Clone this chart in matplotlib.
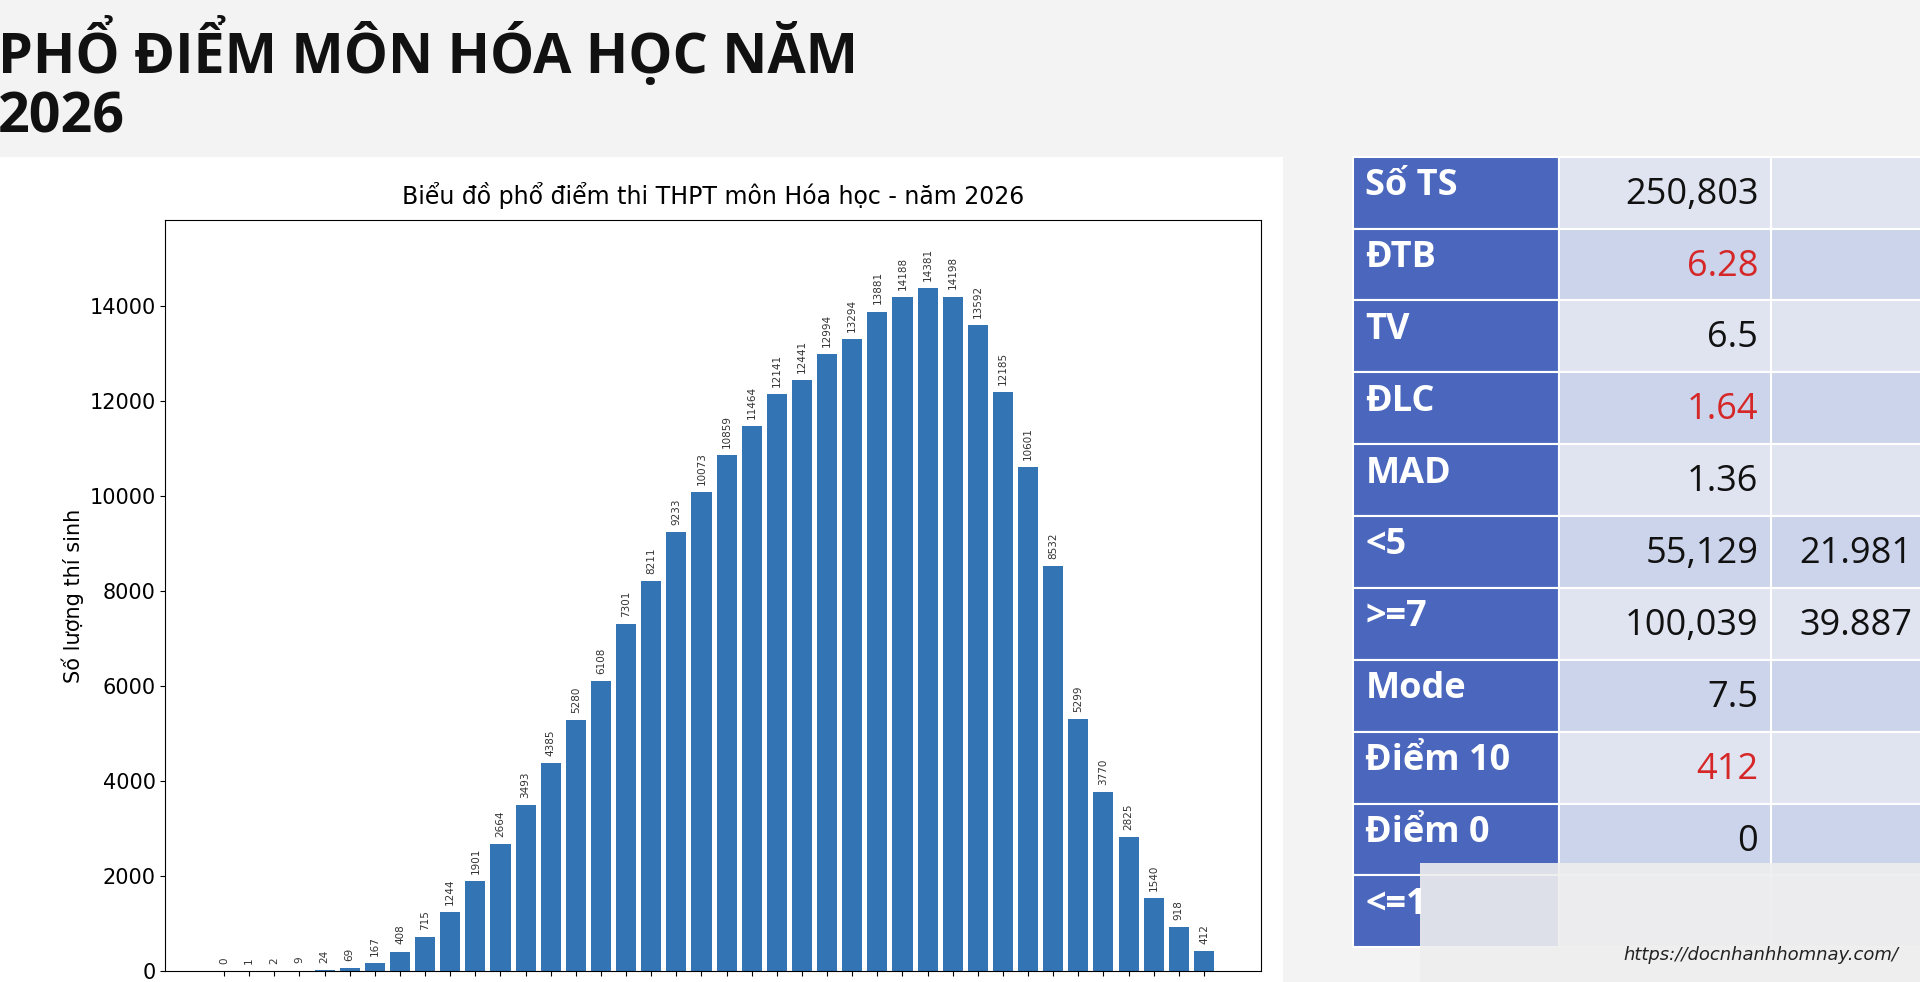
import matplotlib
matplotlib.use("Agg")
import matplotlib.pyplot as plt
from matplotlib.patches import Rectangle

scores = [0.25 * (i + 1) for i in range(40)]
counts = [0, 1, 2, 9, 24, 69, 167, 408, 715, 1244, 1901, 2664, 3493, 4385, 5280, 6108,
          7301, 8211, 9233, 10073, 10859, 11464, 12141, 12441, 12994, 13294, 13881, 14188,
          14381, 14198, 13592, 12185, 10601, 8532, 5299, 3770, 2825, 1540, 918, 412]
row_labels = ["Số TS", "ĐTB", "TV", "ĐLC", "MAD", "<5", ">=7", "Mode", "Điểm 10", "Điểm 0", "<=1"]
row_values = ["250,803", "6.28", "6.5", "1.64", "1.36", "55,129", "100,039", "7.5", "412", "0", ""]
row_pct = ["", "", "", "", "", "21.981", "39.887", "", "", "", ""]
red_rows = ["ĐTB", "ĐLC", "Điểm 10"]

W, H = 1568, 802
fig = plt.figure(figsize=(19.2, 9.82), dpi=100)
fig.patch.set_facecolor("#f3f3f3")

def fx(x): return x / W
def fy(y): return 1 - y / H

fig.text(fx(-2), fy(66), "PHỔ ĐIỂM MÔN HÓA HỌC NĂM\n2026", fontsize=40, fontweight="bold",
         va="center", ha="left", family="Open Sans", color="#111111", linespacing=1.1)

# white chart panel
fig.patches.append(Rectangle((0, 0), fx(1048), fy(128), transform=fig.transFigure,
                             facecolor="white", edgecolor="none", zorder=-5))

ax = fig.add_axes([fx(135), fy(793), fx(1030) - fx(135), fy(180) - fy(793)])
ax.set_zorder(3)
ax.bar(scores, counts, width=0.2, color="#3274b4")
for s, c in zip(scores, counts):
    ax.text(s, c + 150, str(c), rotation=90, ha="center", va="bottom", fontsize=7.5, color="#333333")
ax.set_xlim(-0.335, 10.57)
ax.set_ylim(0, 15800)
ax.set_xticks(scores)
ax.set_xticklabels([])
ax.set_yticks(range(0, 16000, 2000))
ax.tick_params(axis="y", labelsize=15)
ax.set_ylabel("Số lượng thí sinh", fontsize=15)
ax.set_title("Biểu đồ phổ điểm thi THPT môn Hóa học - năm 2026", fontsize=17, pad=12)

# table
col_x = [1105, 1273, 1446, 1580]
row_h = 58.7
for i, (lab, val, pct) in enumerate(zip(row_labels, row_values, row_pct)):
    y0 = 128 + i * row_h
    bg = "#dfe4f0" if i % 2 == 0 else "#cbd4ea"
    fig.patches.append(Rectangle((fx(col_x[0]), fy(y0 + row_h)), fx(col_x[1] - col_x[0]), row_h / H,
                                 transform=fig.transFigure, facecolor="#4a67bd", edgecolor="white", lw=1.5))
    for a, b in [(1, 2), (2, 3)]:
        fig.patches.append(Rectangle((fx(col_x[a]), fy(y0 + row_h)), fx(col_x[b] - col_x[a]), row_h / H,
                                     transform=fig.transFigure, facecolor=bg, edgecolor="white", lw=1.5))
    fig.text(fx(1115), fy(y0 + 24), lab, color="white", fontsize=26, fontweight="bold",
             va="center", family="Open Sans")
    fig.text(fx(1436), fy(y0 + 31), val, color="#d62728" if lab in red_rows else "#111111",
             fontsize=26, ha="right", va="center", family="Open Sans")
    if pct:
        fig.text(fx(1562), fy(y0 + 31), pct, color="#111111", fontsize=26, ha="right",
                 va="center", family="Open Sans")

fig.patches.append(Rectangle((fx(1160), 0), fx(408), fy(705), transform=fig.transFigure,
                             facecolor="#eeeeee", edgecolor="none", alpha=0.9))
fig.text(fx(1550), fy(780), "https://docnhanhhomnay.com/", fontsize=13, ha="right",
         va="center", style="italic", color="#222222")

fig.savefig("out.png", dpi=100, facecolor=fig.get_facecolor())
